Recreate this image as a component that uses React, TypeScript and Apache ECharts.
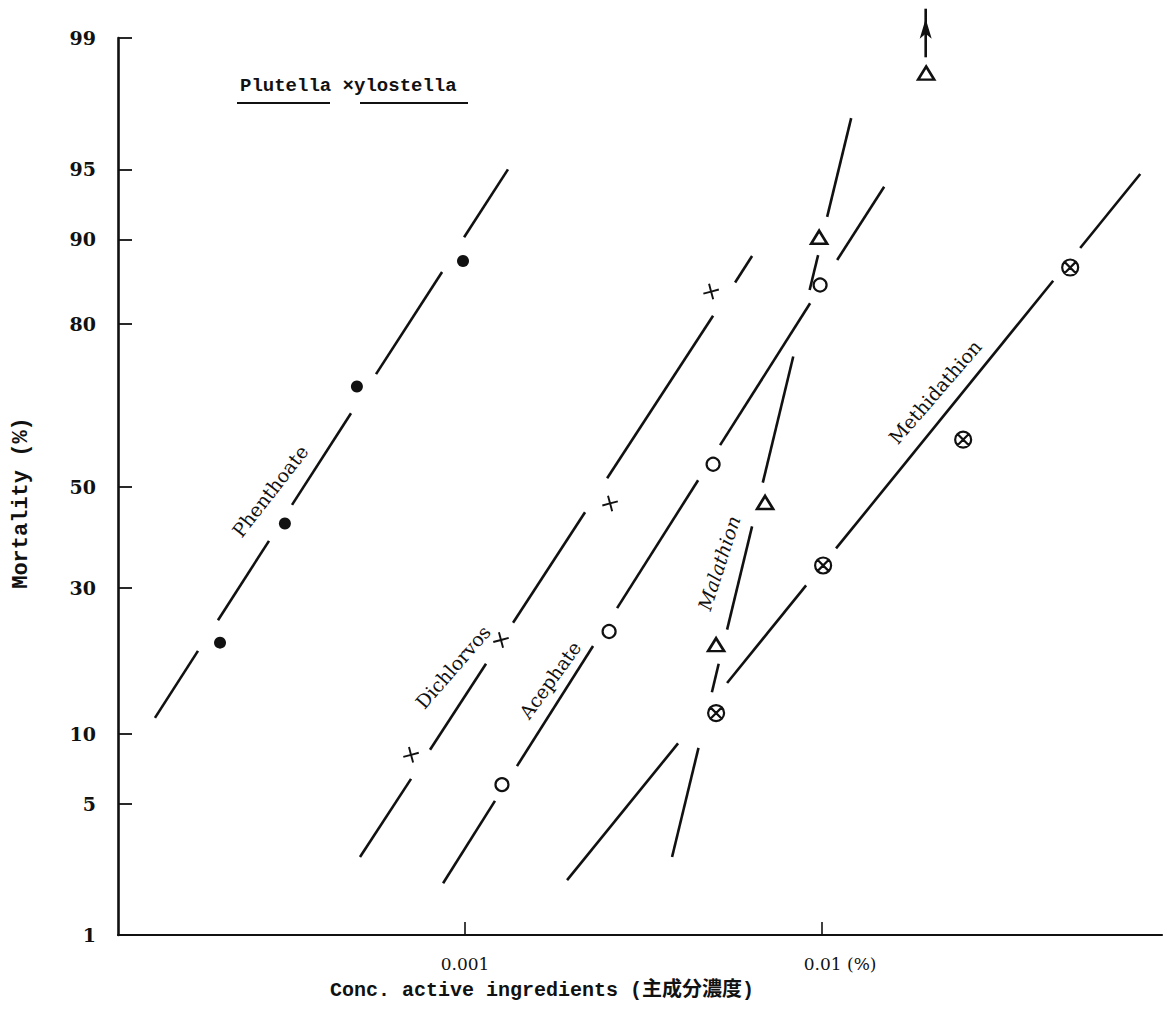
import React, { useEffect, useRef } from "react";
import * as echarts from "echarts";

// ---- axis ticks ----
const mortalityTicks = [1, 5, 10, 30, 50, 80, 90, 95, 99];
const concTicks = [0.001, 0.01];
const concTickLabels = ["0.001", "0.01"];

// ---- data points (concentration %, mortality %) ----
const phenthoateConc = [2.06e-4, 3.13e-4, 4.98e-4, 9.87e-4];
const phenthoateMort = [20.9, 42.4, 69.8, 87.9];
const dichlorvosConc = [7.06e-4, 1.261e-3, 2.548e-3, 4.888e-3];
const dichlorvosMort = [8.2, 21.3, 46.5, 84.4];
const acephateConc = [1.269e-3, 2.532e-3, 4.951e-3, 9.87e-3];
const acephateMort = [6.1, 22.6, 54.6, 85.2];
const malathionConc = [5.048e-3, 6.923e-3, 9.81e-3, 1.956e-2];
const malathionMort = [20.6, 46.7, 90.2, 98.4];
const methidathionConc = [5.048e-3, 1.0065e-2, 2.483e-2, 4.951e-2];
const methidathionMort = [12.0, 34.1, 59.6, 87.2];

// ---- drawn regression-line pieces [conc1, mort1, conc2, mort2] ----
const phenthoateSegments = [
  [1.354e-4, 11.5, 1.787e-4, 19.7],
  [2.033e-4, 24.4, 2.825e-4, 38.9],
  [3.277e-4, 46.2, 4.794e-4, 64.8],
  [5.633e-4, 72.0, 8.624e-4, 86.7],
  [9.94e-4, 90.2, 1.319e-3, 95.0],
];
const dichlorvosSegments = [
  [5.08e-4, 2.73, 7.06e-4, 6.47],
  [7.98e-4, 8.61, 1.145e-3, 17.9],
  [1.363e-3, 24.0, 2.168e-3, 44.7],
  [2.5e-3, 51.7, 4.951e-3, 81.2],
  [5.706e-3, 85.5, 6.366e-3, 88.4],
];
const acephateSegments = [
  [8.68e-4, 1.98, 1.213e-3, 5.15],
  [1.398e-3, 7.35, 2.283e-3, 20.4],
  [2.666e-3, 26.4, 4.495e-3, 51.3],
  [5.18e-3, 58.5, 9.256e-3, 82.9],
  [1.102e-2, 88.0, 1.492e-2, 94.0],
];
const malathionSegments = [
  [3.8e-3, 2.73, 4.506e-3, 8.76],
  [4.913e-3, 14.3, 5.133e-3, 17.9],
  [5.419e-3, 22.9, 6.366e-3, 41.8],
  [6.822e-3, 50.8, 8.302e-3, 75.0],
  [9.226e-3, 84.6, 9.745e-3, 88.5],
  [1.033e-2, 91.9, 1.206e-2, 97.2],
];
const methidathionSegments = [
  [1.931e-3, 2.06, 3.95e-3, 9.14],
  [5.419e-3, 15.4, 9.02e-3, 30.4],
  [1.094e-2, 37.4, 4.437e-2, 85.7],
  [5.281e-2, 89.2, 7.778e-2, 94.75],
];
// arrow above the last malathion point (>99%)
const malathionArrowConc = 1.95e-2;
const malathionArrowMort = [98.7, 99.34];

// axis range
const concMin = 1.067e-4;
const concMax = 8.95e-2;

// inverse normal CDF (probit scale, Acklam)
function probit(pct: number): number {
  const p = pct / 100;
  const a = [-3.969683028665376e1, 2.209460984245205e2, -2.759285104469687e2, 1.38357751867269e2, -3.066479806614716e1, 2.506628277459239];
  const b = [-5.447609879822406e1, 1.615858368580409e2, -1.556989798598866e2, 6.680131188771972e1, -1.328068155288572e1];
  const c = [-7.784894002430293e-3, -3.223964580411365e-1, -2.400758277161838, -2.549732539343734, 4.374664141464968, 2.938163982698783];
  const d = [7.784695709041462e-3, 3.224671290700398e-1, 2.445134137142996, 3.754408661907416];
  const plow = 0.02425;
  if (p < plow) {
    const q = Math.sqrt(-2 * Math.log(p));
    return (((((c[0] * q + c[1]) * q + c[2]) * q + c[3]) * q + c[4]) * q + c[5]) / ((((d[0] * q + d[1]) * q + d[2]) * q + d[3]) * q + 1);
  }
  if (p <= 1 - plow) {
    const q = p - 0.5;
    const r = q * q;
    return ((((((a[0] * r + a[1]) * r + a[2]) * r + a[3]) * r + a[4]) * r + a[5]) * q) / (((((b[0] * r + b[1]) * r + b[2]) * r + b[3]) * r + b[4]) * r + 1);
  }
  const q = Math.sqrt(-2 * Math.log(1 - p));
  return -(((((c[0] * q + c[1]) * q + c[2]) * q + c[3]) * q + c[4]) * q + c[5]) / ((((d[0] * q + d[1]) * q + d[2]) * q + d[3]) * q + 1);
}

const toXY = (c: number, m: number) => [Math.log10(c), probit(m)];

const plusPath = "path://M8.8,0 L11.2,0 L11.2,8.8 L20,8.8 L20,11.2 L11.2,11.2 L11.2,20 L8.8,20 L8.8,11.2 L0,11.2 L0,8.8 L8.8,8.8 Z";
const otimesPath =
  "path://M0,10 A10,10 0 1,1 20,10 A10,10 0 1,1 0,10 Z M2.93,2.93 L17.07,17.07 M17.07,2.93 L2.93,17.07";

export default function App() {
  const ref = useRef<HTMLDivElement>(null);
  useEffect(() => {
    if (!ref.current) return;
    const chart = echarts.init(ref.current, null, { renderer: "svg" });

    const segSeries = (segs: number[][]) => ({
      type: "lines",
      coordinateSystem: "cartesian2d",
      silent: true,
      z: 2,
      lineStyle: { color: "#111", width: 2.6, opacity: 1, type: "solid" },
      data: segs.map((s) => ({ coords: [toXY(s[0], s[1]), toXY(s[2], s[3])] })),
    });
    const pts = (conc: number[], mort: number[]) => conc.map((c, i) => toXY(c, mort[i]));

    const yTickVals = mortalityTicks.map(probit);
    const xTickVals = concTicks.map((c) => Math.log10(c));

    const serif = "'DejaVu Serif', 'Liberation Serif', serif";
    const mono = "'Liberation Mono', 'DejaVu Sans Mono', 'Noto Sans CJK JP', monospace";

    chart.setOption({
      animation: false,
      backgroundColor: "#fff",
      grid: { left: 118, right: 5, top: 38, bottom: 95 },
      xAxis: {
        type: "value",
        min: Math.log10(concMin),
        max: Math.log10(concMax),
        axisLine: { show: true, onZero: false, lineStyle: { color: "#111", width: 2.2 } },
        axisTick: { show: true, inside: true, length: 13, customValues: xTickVals, lineStyle: { color: "#111", width: 1.6 } },
        splitLine: { show: false },
        axisLabel: {
          customValues: xTickVals,
          margin: 20,
          color: "#111",
          fontFamily: serif,
          fontSize: 17,
          formatter: (v: number) => {
            let idx = 0;
            xTickVals.forEach((t, i) => {
              if (Math.abs(t - v) < Math.abs(xTickVals[idx] - v)) idx = i;
            });
            return idx === xTickVals.length - 1
              ? "{pad| }" + concTickLabels[idx] + " (%)"
              : concTickLabels[idx];
          },
          rich: { pad: { width: 36, fontSize: 17 } },
        },
      },
      yAxis: {
        type: "value",
        min: probit(1),
        max: probit(99),
        axisLine: { show: true, onZero: false, lineStyle: { color: "#111", width: 2.6 } },
        axisTick: { show: true, inside: true, length: 14, customValues: yTickVals, lineStyle: { color: "#111", width: 1.8 } },
        splitLine: { show: false },
        axisLabel: {
          customValues: yTickVals,
          margin: 22,
          color: "#111",
          fontFamily: serif,
          fontWeight: "bold",
          fontSize: 19,
          formatter: (v: number) => {
            let idx = 0;
            yTickVals.forEach((t, i) => {
              if (Math.abs(t - v) < Math.abs(yTickVals[idx] - v)) idx = i;
            });
            return String(mortalityTicks[idx]);
          },
        },
      },
      graphic: [
        {
          type: "text",
          x: 240,
          y: 86,
          style: { text: "Plutella ×ylostella", font: `bold 19px ${mono}`, fill: "#111", textAlign: "left", textVerticalAlign: "middle" },
        },
        { type: "line", shape: { x1: 237, y1: 103, x2: 330, y2: 103 }, style: { stroke: "#111", lineWidth: 2 } },
        { type: "line", shape: { x1: 360, y1: 103, x2: 468, y2: 103 }, style: { stroke: "#111", lineWidth: 2 } },
        {
          type: "text",
          x: 21,
          y: 503,
          rotation: Math.PI / 2,
          style: { text: "Mortality (%)", font: `bold 22px ${mono}`, fill: "#111", textAlign: "center", textVerticalAlign: "middle" },
        },
        {
          type: "text",
          x: 542,
          y: 990,
          style: { text: "Conc. active ingredients (主成分濃度)", font: `bold 20px ${mono}`, fill: "#111", textAlign: "center", textVerticalAlign: "middle" },
        },
        {
          type: "text",
          x: 270,
          y: 491,
          rotation: (52 * Math.PI) / 180,
          style: { text: "Phenthoate", font: `19px ${serif}`, fill: "#111", textAlign: "center", textVerticalAlign: "middle" },
        },
        {
          type: "text",
          x: 453,
          y: 667,
          rotation: (49 * Math.PI) / 180,
          style: { text: "Dichlorvos", font: `19px ${serif}`, fill: "#111", textAlign: "center", textVerticalAlign: "middle" },
        },
        {
          type: "text",
          x: 550,
          y: 680,
          rotation: (54 * Math.PI) / 180,
          style: { text: "Acephate", font: `19px ${serif}`, fill: "#111", textAlign: "center", textVerticalAlign: "middle" },
        },
        {
          type: "text",
          x: 719,
          y: 563,
          rotation: (72 * Math.PI) / 180,
          style: { text: "Malathion", font: `italic 19px ${serif}`, fill: "#111", textAlign: "center", textVerticalAlign: "middle" },
        },
        {
          type: "text",
          x: 935,
          y: 392,
          rotation: (49 * Math.PI) / 180,
          style: { text: "Methidathion", font: `19px ${serif}`, fill: "#111", textAlign: "center", textVerticalAlign: "middle" },
        },
      ],
      series: [
        segSeries(phenthoateSegments),
        segSeries(dichlorvosSegments),
        segSeries(acephateSegments),
        segSeries(malathionSegments),
        segSeries(methidathionSegments),
        {
          type: "line",
          clip: false,
          silent: true,
          z: 3,
          lineStyle: { color: "#111", width: 2.6 },
          itemStyle: { color: "#111", opacity: 1 },
          data: [
            { value: toXY(malathionArrowConc, malathionArrowMort[0]), symbol: "none" },
            { value: toXY(malathionArrowConc, malathionArrowMort[1]), symbol: "arrow", symbolSize: [9, 20], symbolOffset: [0, 10] },
          ],
        },
        {
          name: "Phenthoate",
          type: "scatter",
          z: 5,
          symbol: "circle",
          symbolSize: 12,
          itemStyle: { color: "#111", opacity: 1 },
          data: pts(phenthoateConc, phenthoateMort),
        },
        {
          name: "Dichlorvos",
          type: "scatter",
          z: 5,
          symbol: plusPath,
          symbolSize: 16,
          symbolRotate: 15,
          itemStyle: { color: "#111", opacity: 1 },
          data: pts(dichlorvosConc, dichlorvosMort),
        },
        {
          name: "Acephate",
          type: "scatter",
          z: 5,
          symbol: "circle",
          symbolSize: 13,
          itemStyle: { color: "#fff", borderColor: "#111", borderWidth: 2.2, opacity: 1 },
          data: pts(acephateConc, acephateMort),
        },
        {
          name: "Malathion",
          type: "scatter",
          z: 5,
          symbol: "triangle",
          symbolSize: [16, 13],
          itemStyle: { color: "#fff", borderColor: "#111", borderWidth: 2.6, opacity: 1 },
          data: pts(malathionConc, malathionMort),
        },
        {
          name: "Methidathion",
          type: "scatter",
          z: 5,
          symbol: otimesPath,
          symbolSize: 16,
          itemStyle: { color: "#fff", borderColor: "#111", borderWidth: 2.2, opacity: 1 },
          data: pts(methidathionConc, methidathionMort),
        },
      ],
    });
    return () => chart.dispose();
  }, []);
  return <div ref={ref} style={{ position: "fixed", left: 0, top: 0, width: 1167, height: 1030, background: "#fff" }} />;
}
